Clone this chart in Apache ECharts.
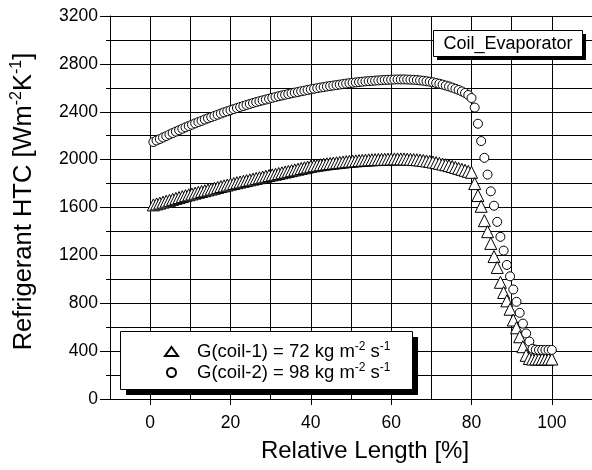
<!DOCTYPE html>
<html>
<head>
<meta charset="utf-8">
<script src="https://cdn.jsdelivr.net/npm/echarts@6/dist/echarts.min.js"></script>
<style>html,body{margin:0;padding:0;background:#fff}#c{width:592px;height:470px}</style>
</head>
<body>
<div id="c"></div>
<script>
// Relative length positions [%] (shared by both coils)
const relLength = [
  0.8,1.6,2.4,3.2,4.0,4.8,5.6,6.4,7.2,8.0,
  8.8,9.6,10.4,11.2,12.0,12.8,13.6,14.4,15.2,16.0,
  16.8,17.6,18.4,19.2,20.0,20.8,21.6,22.4,23.2,24.0,
  24.8,25.6,26.4,27.2,28.0,28.8,29.6,30.4,31.2,32.0,
  32.8,33.6,34.4,35.2,36.0,36.8,37.6,38.4,39.2,40.0,
  40.8,41.6,42.4,43.2,44.0,44.8,45.6,46.4,47.2,48.0,
  48.8,49.6,50.4,51.2,52.0,52.8,53.6,54.4,55.2,56.0,
  56.8,57.6,58.4,59.2,60.0,60.8,61.6,62.4,63.2,64.0,
  64.8,65.6,66.4,67.2,68.0,68.8,69.6,70.4,71.2,72.0,
  72.8,73.6,74.4,75.2,76.0,76.8,77.6,78.4,79.2,80.0,
  80.8,81.6,82.4,83.2,84.0,84.8,85.6,86.4,87.2,88.0,
  88.8,89.6,90.4,91.2,92.0,92.8,93.6,94.4,95.2,96.0,
  96.8,97.6,98.4,99.2,100.0
];
// G(coil-1) = 72 kg m-2 s-1  (triangles)
const htcCoil1 = [
  1622,1630,1637,1645,1653,1660,1668,1676,1683,1691,
  1699,1706,1713,1720,1727,1734,1740,1747,1754,1761,
  1768,1775,1781,1788,1795,1801,1807,1813,1819,1825,
  1831,1837,1843,1849,1855,1861,1867,1873,1878,1884,
  1890,1896,1902,1908,1914,1920,1926,1932,1938,1944,
  1949,1953,1957,1961,1965,1968,1971,1974,1977,1980,
  1983,1986,1988,1990,1992,1994,1996,1998,1999,2000,
  2001,2002,2003,2004,2005,2006,2006,2006,2005,2004,
  2003,2001,1999,1996,1993,1989,1985,1980,1975,1969,
  1963,1957,1950,1943,1935,1927,1919,1911,1902,1894,
  1800,1700,1610,1490,1398,1300,1190,1099,975,890,
  820,750,660,595,520,437,365,338,334,334,
  334,334,334,334,334
];
// G(coil-2) = 98 kg m-2 s-1  (circles)
const htcCoil2 = [
  2147,2160,2172,2185,2197,2210,2222,2234,2246,2258,
  2270,2281,2292,2303,2314,2324,2335,2345,2355,2365,
  2375,2385,2395,2404,2413,2422,2431,2440,2448,2457,
  2465,2473,2481,2488,2495,2502,2509,2516,2523,2530,
  2536,2542,2548,2554,2560,2565,2571,2576,2582,2587,
  2592,2597,2602,2606,2611,2615,2619,2623,2627,2631,
  2635,2639,2642,2645,2648,2651,2654,2656,2658,2660,
  2662,2664,2666,2667,2668,2669,2670,2670,2670,2669,
  2668,2667,2665,2662,2659,2655,2651,2646,2640,2634,
  2627,2619,2611,2602,2592,2582,2570,2557,2540,2515,
  2435,2300,2155,2015,1875,1735,1615,1480,1355,1240,
  1120,1025,915,812,720,630,548,480,420,412,
  410,410,410,410,410
];
const xTickValues = [0,20,40,60,80,100];
const seriesNames = ['coil-1','coil-2'];
const legendLabels = {
  'coil-1': '{g| }G(coil-1) = 72 kg m{s|-2} s{s|-1}',
  'coil-2': '{g| }G(coil-2) = 98 kg m{s|-2} s{s|-1}'
};
const xTitle = 'Relative Length [%]';
const yTitle = 'Refrigerant HTC [Wm{s|-2}K{s|-1}]';
const boxLabel = 'Coil_Evaporator';

const FONT = '"Liberation Sans", Arial, Helvetica, sans-serif';
const chart = echarts.init(document.getElementById('c'), null, {renderer: 'canvas'});
const black = '#000';

const option = {
  animation: false,
  backgroundColor: '#fff',
  textStyle: {fontFamily: FONT, color: black},
  grid: {left: 110, top: 16, width: 491.5, height: 386, containLabel: false},
  xAxis: [{
    type: 'value', min: -10, max: 110, interval: 10,
    axisLine: {show: true, onZero: false, lineStyle: {color: black, width: 1}},
    axisTick: {show: true, customValues: xTickValues, length: 6, lineStyle: {color: black, width: 1}},
    axisLabel: {customValues: xTickValues, margin: 15, fontSize: 17.5, color: black, fontFamily: FONT, formatter: v => String(v)},
    splitLine: {show: false},
    name: xTitle, nameLocation: 'middle', nameGap: 38,
    nameTextStyle: {fontSize: 24, color: black, fontFamily: FONT, lineHeight: 28, padding: [0, 0, 0, 28]}
  }, {
    type: 'value', min: -10, max: 110, interval: 10, position: 'bottom',
    axisLine: {show: false, onZero: false}, axisTick: {show: false}, axisLabel: {show: false},
    splitLine: {show: true, lineStyle: {color: black, width: 1}}
  }],
  yAxis: [{
    type: 'value', min: 0, max: 3200, interval: 400,
    axisLine: {show: true, onZero: false, lineStyle: {color: black, width: 1}},
    axisTick: {show: true, length: 10, lineStyle: {color: black, width: 1}},
    axisLabel: {margin: 12, fontSize: 17.5, color: black, fontFamily: FONT, formatter: v => String(v)},
    splitLine: {show: false},
    name: yTitle, nameLocation: 'middle', nameGap: 71,
    nameTextStyle: {
      fontSize: 25.5, color: black, fontFamily: FONT, lineHeight: 30, padding: [0, 0, 0, 12],
      rich: {s: {fontSize: 16, lineHeight: 16, verticalAlign: 'top', fontFamily: FONT, color: black}}
    }
  }, {
    type: 'value', min: 0, max: 3200, interval: 200, position: 'left',
    axisLine: {show: false, onZero: false},
    axisTick: {show: true, length: 4, lineStyle: {color: black, width: 1}},
    axisLabel: {show: false},
    splitLine: {show: true, lineStyle: {color: black, width: 1}}
  }],
  legend: {
    orient: 'vertical', left: 164, top: 341, padding: 0, itemGap: 0,
    itemWidth: 13, itemHeight: 9, selectedMode: false, z: 20,
    data: [{name: seriesNames[0], icon: 'triangle'}, {name: seriesNames[1], icon: 'circle'}],
    formatter: n => legendLabels[n],
    textStyle: {
      fontSize: 18.5, color: black, fontFamily: FONT, lineHeight: 21,
      rich: {
        s: {fontSize: 12, lineHeight: 12, verticalAlign: 'top', fontFamily: FONT, color: black},
        g: {width: 14, fontSize: 18.5, lineHeight: 21}
      }
    }
  },
  graphic: {
    elements: [
      {type: 'rect', z: 10, silent: true, shape: {x: 126, y: 337, width: 292, height: 58}, style: {fill: black}},
      {type: 'rect', z: 11, silent: true, shape: {x: 120.5, y: 331.5, width: 292, height: 58}, style: {fill: '#fff', stroke: black, lineWidth: 1}},
      {type: 'rect', z: 10, silent: true, shape: {x: 437, y: 34, width: 149, height: 26}, style: {fill: black}},
      {type: 'rect', z: 11, silent: true, shape: {x: 433.5, y: 30.5, width: 149, height: 26}, style: {fill: '#fff', stroke: black, lineWidth: 1}},
      {type: 'text', z: 12, silent: true, x: 508, y: 44, style: {text: boxLabel, fontSize: 18, fontFamily: FONT, fill: black, align: 'center', verticalAlign: 'middle'}}
    ]
  },
  series: [{
    name: seriesNames[0], type: 'scatter', symbol: 'triangle', symbolSize: 12,
    data: relLength.map((x, i) => [x, htcCoil1[i]]),
    itemStyle: {color: '#fff', borderColor: black, borderWidth: 1, opacity: 1},
    emphasis: {disabled: true}, silent: true, z: 3
  }, {
    name: seriesNames[1], type: 'scatter', symbol: 'circle', symbolSize: 9,
    data: relLength.map((x, i) => [x, htcCoil2[i]]),
    itemStyle: {color: '#fff', borderColor: black, borderWidth: 1, opacity: 1},
    emphasis: {disabled: true}, silent: true, z: 4
  }]
};
chart.setOption(option);
</script>
</body>
</html>
